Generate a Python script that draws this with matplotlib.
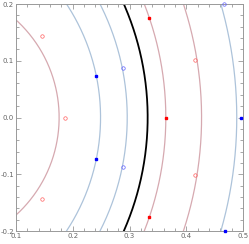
import numpy as np
import matplotlib
matplotlib.use("Agg")
import matplotlib.pyplot as plt
from matplotlib.ticker import MultipleLocator, FormatStrFormatter

# contour arcs: x where arc crosses y=0, x where it reaches y=+/-0.2
arc_x0 = [0.176, 0.249, 0.296, 0.332, 0.364, 0.427, 0.489]
arc_xtop = [0.062, 0.189, 0.248, 0.290, 0.326, 0.395, 0.461]
arc_kind = ["red", "blue", "blue", "black", "red", "red", "blue"]

# markers
red_open_x = [0.146, 0.187, 0.146, 0.415, 0.415]
red_open_y = [0.143, 0.0, -0.144, 0.101, -0.102]
red_fill_x = [0.335, 0.364, 0.335]
red_fill_y = [0.175, 0.0, -0.176]
blue_open_x = [0.289, 0.289, 0.467]
blue_open_y = [0.087, -0.0875, 0.2]
blue_fill_x = [0.2406, 0.2406, 0.4956, 0.468]
blue_fill_y = [0.0736, -0.074, 0.0, -0.2]

line_colors = {"red": "#d6a9b0", "blue": "#adc3da", "black": "black"}
line_widths = {"red": 0.9, "blue": 0.9, "black": 1.3}

fig = plt.figure(figsize=(2.49, 2.44), dpi=100)
ax = fig.add_axes([16 / 249, 1 - 231 / 244, 227 / 249, 227 / 244])

y = np.linspace(-0.2, 0.2, 400)
for x0, xt, kind in zip(arc_x0, arc_xtop, arc_kind):
    # circle centred on y=0 through (x0, 0) and (xt, 0.2)
    c = (x0**2 - xt**2 - 0.04) / (2 * (x0 - xt))
    r = x0 - c
    ax.plot(c + np.sqrt(r**2 - y**2), y, color=line_colors[kind],
            lw=line_widths[kind], zorder=2)

ax.plot(red_open_x, red_open_y, "o", mfc="none", mec="#ff6060", mew=0.5,
        ms=2.5, ls="none", zorder=3, clip_on=False)
ax.plot(red_fill_x, red_fill_y, "s", color="red", ms=2.0, ls="none", zorder=3)
ax.plot(blue_open_x, blue_open_y, "o", mfc="none", mec="#6060ff", mew=0.5,
        ms=2.5, ls="none", zorder=3, clip_on=False)
ax.plot(blue_fill_x, blue_fill_y, "s", color="blue", ms=2.0, ls="none",
        zorder=3, clip_on=False)

ax.set_xlim(0.1, 0.5)
ax.set_ylim(-0.2, 0.2)
ax.xaxis.set_major_locator(MultipleLocator(0.1))
ax.xaxis.set_minor_locator(MultipleLocator(0.02))
ax.yaxis.set_major_locator(MultipleLocator(0.1))
ax.yaxis.set_minor_locator(MultipleLocator(0.02))
ax.xaxis.set_major_formatter(FormatStrFormatter("%.1f"))
ax.yaxis.set_major_formatter(FormatStrFormatter("%.1f"))
ax.tick_params(which="both", direction="in", top=True, right=True,
               color="#999999", width=0.6, labelsize=5, labelcolor="#666666",
               pad=1.5)
ax.tick_params(which="major", length=3.5)
ax.tick_params(which="minor", length=2)
for s in ax.spines.values():
    s.set_color("#999999")
    s.set_linewidth(0.7)

fig.savefig("out.png", dpi=100)
